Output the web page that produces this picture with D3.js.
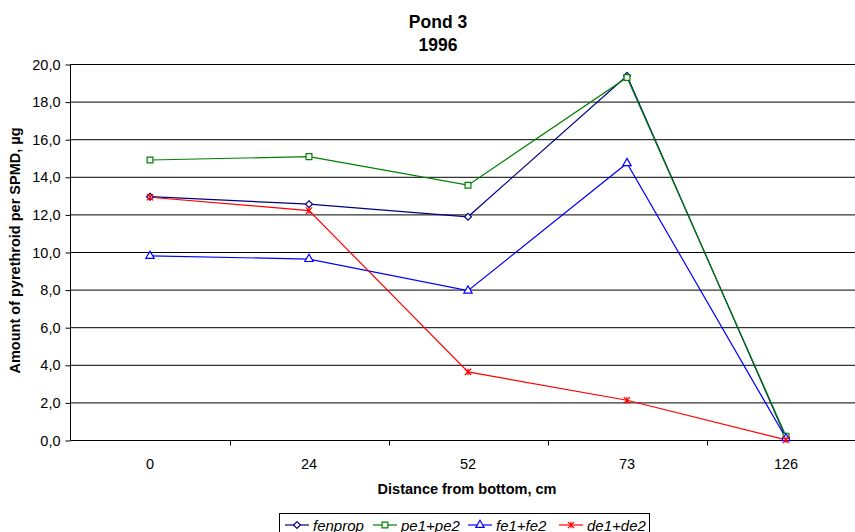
<!DOCTYPE html>
<html>
<head>
<meta charset="utf-8">
<script src="https://cdn.jsdelivr.net/npm/d3@7"></script>
<style>
  html, body { margin: 0; padding: 0; background: #fff; }
  svg { display: block; font-family: "Liberation Sans", Arial, sans-serif; }
</style>
</head>
<body>
<svg id="chart" width="855" height="532"></svg>
<script>
// Distance from the pond bottom (category axis)
const categories = ["0", "24", "52", "73", "126"];

// Amount of pyrethroid per SPMD (µg) for each compound group
const fenprop = [12.97, 12.57, 11.90, 19.40, 0.15];
const pe1pe2  = [14.92, 15.10, 13.58, 19.31, 0.23];
const fe1fe2  = [9.82, 9.65, 7.97, 14.75, 0.12];
const de1de2  = [12.94, 12.23, 3.65, 2.14, 0.03];

const seriesNames = ["fenprop", "pe1+pe2", "fe1+fe2", "de1+de2"];
const yTicks = [0, 2, 4, 6, 8, 10, 12, 14, 16, 18, 20];

// Excel-style "star" marker: an X with a vertical stroke through it
const symbolStar = {
  draw(ctx, size) {
    const r = Math.sqrt(size) / 2;
    ctx.moveTo(-r, -r); ctx.lineTo(r, r);
    ctx.moveTo(-r, r); ctx.lineTo(r, -r);
    ctx.moveTo(0, -r); ctx.lineTo(0, r);
  }
};

const styles = [
  { color: "#000080", symbol: d3.symbolDiamond2, size: 30, fill: "#fff" },
  { color: "#008000", symbol: d3.symbolSquare, size: 34, fill: "#fff" },
  { color: "#0000ff", symbol: d3.symbolTriangle, size: 30, fill: "#fff" },
  { color: "#ff0000", symbol: symbolStar, size: 40, fill: "none" }
];

const series = [fenprop, pe1pe2, fe1fe2, de1de2].map((values, i) => ({
  name: seriesNames[i],
  values,
  ...styles[i]
}));

const svg = d3.select("#chart");
const plot = { left: 70.5, right: 865.5, top: 64.5, bottom: 440.5 };

const x = d3.scaleBand().domain(categories).range([plot.left, plot.right]).padding(0);
const cx = c => x(c) + x.bandwidth() / 2;
const y = d3.scaleLinear().domain([0, 20]).range([plot.bottom, plot.top]);

// Title
const title = svg.append("text")
  .attr("x", 438).attr("text-anchor", "middle")
  .style("font-weight", "bold").style("font-size", "17.5px");
title.append("tspan").attr("x", 438).attr("y", 28).text("Pond 3");
title.append("tspan").attr("x", 438).attr("y", 51).text("1996");

// Horizontal gridlines
svg.append("g").selectAll("line")
  .data(yTicks.filter(t => t > 0))
  .join("line")
  .attr("x1", plot.left).attr("x2", plot.right)
  .attr("y1", d => y(d)).attr("y2", d => y(d))
  .attr("stroke", "#000").attr("stroke-width", 1);

// Y axis
const yAxis = d3.axisLeft(y)
  .tickValues(yTicks)
  .tickSize(5)
  .tickPadding(5)
  .tickFormat(d => d3.format(".1f")(d).replace(".", ","));
const gy = svg.append("g").attr("transform", `translate(${plot.left},0)`).call(yAxis);
gy.select(".domain").attr("d", `M-0,${plot.bottom}V${plot.top}`).attr("stroke", "#000");
gy.selectAll(".tick line").attr("stroke", "#000");
gy.selectAll(".tick text")
  .style("font-size", "14.5px").style("font-family", "Liberation Sans, Arial, sans-serif")
  .attr("fill", "#000");

// X axis: ticks sit on the category boundaries, labels in the middle
svg.append("line")
  .attr("x1", plot.left).attr("x2", plot.right)
  .attr("y1", plot.bottom).attr("y2", plot.bottom)
  .attr("stroke", "#000");
const boundaries = categories.map(c => x(c) + x.bandwidth());
svg.append("g").selectAll("line")
  .data(boundaries)
  .join("line")
  .attr("x1", d => Math.round(d) + 0.5).attr("x2", d => Math.round(d) + 0.5)
  .attr("y1", plot.bottom).attr("y2", plot.bottom + 5)
  .attr("stroke", "#000");
svg.append("g").selectAll("text")
  .data(categories)
  .join("text")
  .attr("x", d => cx(d)).attr("y", 469)
  .attr("text-anchor", "middle")
  .style("font-size", "14.5px")
  .text(d => d);

// Axis titles
svg.append("text")
  .attr("x", 467).attr("y", 494)
  .attr("text-anchor", "middle")
  .style("font-weight", "bold").style("font-size", "14.5px")
  .text("Distance from bottom, cm");
svg.append("text")
  .attr("transform", `translate(20,${(plot.top + plot.bottom) / 2 - 2}) rotate(-90)`)
  .attr("text-anchor", "middle")
  .style("font-weight", "bold").style("font-size", "14.5px")
  .text("Amount of pyrethroid per SPMD, µg");

// Lines and markers
const line = d3.line().x((d, i) => cx(categories[i])).y(d => y(d));
const gSeries = svg.append("g");
series.forEach(s => {
  gSeries.append("path")
    .attr("d", line(s.values))
    .attr("fill", "none")
    .attr("stroke", s.color)
    .attr("stroke-width", 1.2);
});
series.forEach(s => {
  gSeries.append("g").selectAll("path")
    .data(s.values)
    .join("path")
    .attr("transform", (d, i) => `translate(${cx(categories[i])},${y(d)})`)
    .attr("d", d3.symbol().type(s.symbol).size(s.size))
    .attr("fill", s.fill)
    .attr("stroke", s.color)
    .attr("stroke-width", 1.2);
});

// Legend
const legend = svg.append("g");
legend.append("rect")
  .attr("x", 279.5).attr("y", 513.5).attr("width", 370).attr("height", 30)
  .attr("fill", "#fff").attr("stroke", "#000");
const legendX = [285, 373, 468, 559];
series.forEach((s, i) => {
  const lx = legendX[i];
  const ly = 525;
  legend.append("line")
    .attr("x1", lx).attr("x2", lx + 24).attr("y1", ly).attr("y2", ly)
    .attr("stroke", s.color).attr("stroke-width", 1.2);
  legend.append("path")
    .attr("transform", `translate(${lx + 12},${ly})`)
    .attr("d", d3.symbol().type(s.symbol).size(s.size))
    .attr("fill", s.fill).attr("stroke", s.color).attr("stroke-width", 1.2);
  legend.append("text")
    .attr("x", lx + 28).attr("y", ly + 5.5)
    .style("font-style", "italic").style("font-size", "15px")
    .text(s.name);
});
</script>
</body>
</html>
